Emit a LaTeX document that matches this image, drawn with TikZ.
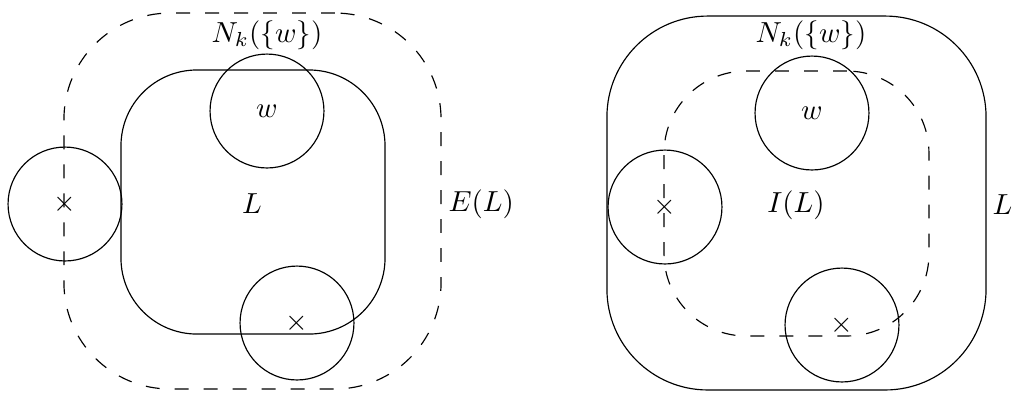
\documentclass[tikz,border=0pt]{standalone}
\begin{document}
\begin{tikzpicture}[x=0.345pt,y=-0.345pt,
  region/.style={draw,rectangle,inner sep=0pt},
  dsh/.style={dash pattern=on 4.8pt off 5.2pt},
  ball/.style={draw,circle,inner sep=0pt,minimum size=39.3pt},
  lbl/.style={inner sep=0pt}]
\useasboundingbox (0,0) rectangle (1015,392);
% left picture
\node[region,rounded corners=26.2pt,minimum width=91.1pt,minimum height=91.1pt] (L1) at (253,202) {};
\node[region,dsh,rounded corners=36.6pt,minimum width=130.1pt,minimum height=129.7pt] (E1) at (252.5,201) {};
\node[ball] (w1) at (267,111) {};
\node[ball] (a1) at (65,204) {};
\node[ball] (b1) at (297,323) {};
\node[lbl] (xa1) at (a1.center) {$\times$};
\node[lbl] (xb1) at (b1.center) {$\times$};
\node[lbl] (wl1) at (w1.center) {$w$};
\node[lbl] (N1) at (267,35) {$N_k(\{w\})$};
\node[lbl] (Ll1) at (252,204) {$L$};
\node[lbl,anchor=west] (El1) at (448,204) {$E(L)$};
% right picture
\node[region,rounded corners=34.8pt,minimum width=130.8pt,minimum height=129pt] (L2) at (796.5,203) {};
\node[region,dsh,rounded corners=28.3pt,minimum width=91.4pt,minimum height=91.4pt] (I2) at (796.5,203.5) {};
\node[ball] (w2) at (812,113) {};
\node[ball] (a2) at (665,207) {};
\node[ball] (b2) at (842,325) {};
\node[lbl] (xa2) at (a2.center) {$\times$};
\node[lbl] (xb2) at (b2.center) {$\times$};
\node[lbl] (wl2) at (w2.center) {$w$};
\node[lbl] (N2) at (811,35) {$N_k(\{w\})$};
\node[lbl] (Il2) at (796,205) {$I(L)$};
\node[lbl,anchor=west] (Ll2) at (992,205) {$L$};
\end{tikzpicture}
\end{document}
